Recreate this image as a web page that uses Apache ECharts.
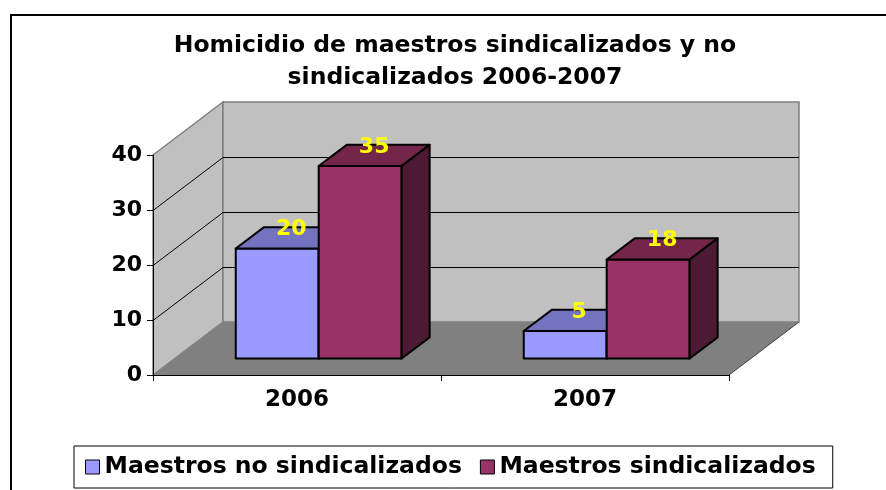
<!DOCTYPE html>
<html>
<head>
<meta charset="utf-8">
<script src="https://cdn.jsdelivr.net/npm/echarts@6/dist/echarts.min.js"></script>
<style>
html, body { margin: 0; padding: 0; background: #fff; overflow: hidden; }
#main1 { width: 886px; height: 490px; }
</style>
</head>
<body>
<div id="main1"></div>
<script>
// datos
var years = ['2006', '2007'];
var noSind = [20, 5];
var sind = [35, 18];
var seriesNames = ['Maestros no sindicalizados', 'Maestros sindicalizados'];
var yTicks = [0, 10, 20, 30, 40];

// caja 3D: desplazamiento de la pared del fondo
var DX = 70, DY = -53;
var FRONT = 0.31, DEPTH = 0.40, BAR = 0.288;
var FONT = 'DejaVu Sans';

function barRender(front, top, side, slot) {
    return function (params, api) {
        var cat = api.value(0), val = api.value(1);
        var p0 = api.coord([cat, 0]);
        var p1 = api.coord([cat, val]);
        var bw = api.size([1, 0])[0] * BAR;
        var bx = DX * DEPTH, by = DY * DEPTH;
        var xl = p0[0] + (slot - 1) * bw + DX * FRONT;
        var xr = xl + bw;
        var yt = p1[1] + DY * FRONT, yb = p0[1] + DY * FRONT;
        var edge = { stroke: '#000', lineWidth: 2, lineJoin: 'round' };
        return {
            type: 'group',
            children: [
                { type: 'polygon', shape: { points: [[xl, yt], [xr, yt], [xr, yb], [xl, yb]] },
                  style: Object.assign({ fill: front }, edge) },
                { type: 'polygon', shape: { points: [[xl, yt], [xr, yt], [xr + bx, yt + by], [xl + bx, yt + by]] },
                  style: Object.assign({ fill: top }, edge) },
                { type: 'polygon', shape: { points: [[xr, yt], [xr + bx, yt + by], [xr + bx, yb + by], [xr, yb]] },
                  style: Object.assign({ fill: side }, edge) },
                { type: 'text', z2: 10,
                  style: { x: xl + bw / 2 + bx / 2, y: yt + by + 2, text: String(val), fill: '#ffff00',
                           font: 'bold 22px "' + FONT + '"', align: 'center', verticalAlign: 'middle' } }
            ]
        };
    };
}

function wallsRender(params, api) {
    var cs = params.coordSys;
    var x0 = cs.x, x1 = cs.x + cs.width;
    var yb = api.coord([0, yTicks[0]])[1];
    var yt = api.coord([0, yTicks[yTicks.length - 1]])[1];
    var gray = { stroke: '#808080', lineWidth: 1.5 };
    var ch = [
        { type: 'polygon', shape: { points: [[x0, yb], [x0, yt], [x0 + DX, yt + DY], [x0 + DX, yb + DY]] },
          style: Object.assign({ fill: '#c0c0c0' }, gray) },
        { type: 'polygon', shape: { points: [[x0 + DX, yt + DY], [x1 + DX, yt + DY], [x1 + DX, yb + DY], [x0 + DX, yb + DY]] },
          style: Object.assign({ fill: '#c0c0c0' }, gray) },
        { type: 'polygon', shape: { points: [[x0, yb], [x0 + DX, yb + DY], [x1 + DX, yb + DY], [x1, yb]] },
          style: { fill: '#808080' } },
        { type: 'line', shape: { x1: x1, y1: yb, x2: x1 + DX, y2: yb + DY },
          style: { stroke: '#404040', lineWidth: 1 } }
    ];
    for (var i = 1; i < yTicks.length - 1; i++) {
        var y = Math.round(api.coord([0, yTicks[i]])[1]) + 0.5;
        ch.push({ type: 'line', shape: { x1: x0, y1: y, x2: x0 + DX, y2: y + DY }, style: { stroke: '#000', lineWidth: 1 } });
        ch.push({ type: 'line', shape: { x1: x0 + DX, y1: y + DY, x2: x1 + DX, y2: y + DY }, style: { stroke: '#000', lineWidth: 1 } });
    }
    return { type: 'group', children: ch };
}

var myChart = echarts.init(document.getElementById('main1'));

var option = {
    backgroundColor: '#fff',
    animation: false,
    title: {
        text: 'Homicidio de maestros sindicalizados y no\nsindicalizados 2006-2007',
        left: 455, top: 30, textAlign: 'center', padding: 0,
        textStyle: { fontFamily: FONT, fontWeight: 'bold', fontSize: 23.5, lineHeight: 32, color: '#000' }
    },
    graphic: [{
        type: 'polyline', silent: true,
        shape: { points: [[11, 520], [11, 15], [900, 15]] },
        style: { fill: 'none', stroke: '#000', lineWidth: 2 }
    }],
    legend: {
        left: 74, top: 446,
        data: [
            { name: seriesNames[0], itemStyle: { color: '#9999ff', borderColor: '#000', borderWidth: 1 } },
            { name: seriesNames[1], itemStyle: { color: '#993366', borderColor: '#000', borderWidth: 1 } }
        ],
        icon: 'rect', itemWidth: 14, itemHeight: 14, itemGap: 18,
        padding: [7, 17, 7, 11],
        borderColor: '#000', borderWidth: 1, backgroundColor: '#fff',
        selectedMode: false,
        textStyle: { fontFamily: FONT, fontWeight: 'bold', fontSize: 23.5, lineHeight: 28, color: '#000' }
    },
    grid: { left: 153, right: 157, top: 155, bottom: 115, outerBoundsMode: 'none' },
    xAxis: {
        type: 'category', data: years, z: 5,
        axisLine: { lineStyle: { color: '#000', width: 1 } },
        axisTick: { show: true, length: 6, lineStyle: { color: '#000' } },
        axisLabel: { fontFamily: FONT, fontWeight: 'bold', fontSize: 23, color: '#000', margin: 14 },
        splitLine: { show: false }
    },
    yAxis: {
        type: 'value', min: 0, max: 40, interval: 10, z: 5,
        axisLine: { show: true, lineStyle: { color: '#000', width: 1 } },
        axisTick: { show: true, length: 6, lineStyle: { color: '#000' } },
        axisLabel: { fontFamily: FONT, fontWeight: 'bold', fontSize: 22, color: '#000', margin: 11 },
        splitLine: { show: false }
    },
    series: [
        { type: 'custom', name: 'walls', silent: true, z: 1, renderItem: wallsRender, data: [[0, 0]] },
        {
            type: 'custom', name: seriesNames[0], z: 2,
            itemStyle: { color: '#9999ff' },
            renderItem: barRender('#9999ff', '#7373bf', '#4d4d80', 0),
            data: years.map(function (y, i) { return [i, noSind[i]]; })
        },
        {
            type: 'custom', name: seriesNames[1], z: 2,
            itemStyle: { color: '#993366' },
            renderItem: barRender('#993366', '#732649', '#4d1a33', 1),
            data: years.map(function (y, i) { return [i, sind[i]]; })
        }
    ]
};

myChart.setOption(option);
</script>
</body>
</html>
